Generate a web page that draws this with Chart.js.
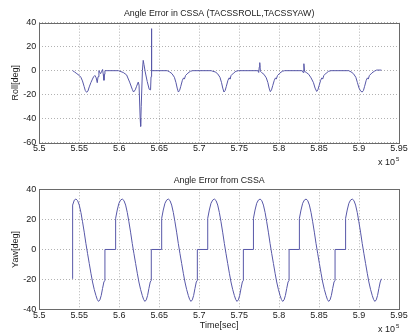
<!DOCTYPE html>
<html>
<head>
<meta charset="utf-8">
<script src="https://cdn.jsdelivr.net/npm/chart.js@4.4.0/dist/chart.umd.min.js"></script>
<style>
  html, body { margin: 0; padding: 0; background: #fff; }
  #wrap { position: relative; width: 413px; height: 335px; }
  canvas { position: absolute; left: 0; }
</style>
</head>
<body>
<div id="wrap">
  <canvas id="rollChart" width="413" height="167" style="top:0"></canvas>
  <canvas id="yawChart" width="413" height="168" style="top:167px"></canvas>
</div>
<script>
// time axis is in units of 1e5 sec (shown as "x 10^5")
const xTickValues = [5.5, 5.55, 5.6, 5.65, 5.7, 5.75, 5.8, 5.85, 5.9, 5.95];
const xTickLabels = ['5.5', '5.55', '5.6', '5.65', '5.7', '5.75', '5.8', '5.85', '5.9', '5.95'];
const rollTicks = [-60, -40, -20, 0, 20, 40];
const yawTicks = [-40, -20, 0, 20, 40];

// roll angle error
const rollTime = [
  5.5417, 5.5440, 5.5470, 5.5500, 5.5520, 5.5540, 5.5560, 5.5575, 5.5592, 5.5608, 5.5625, 5.5645, 5.5665, 5.5680,
  5.5695, 5.5712, 5.5725, 5.5735, 5.5746, 5.5757, 5.5767, 5.5780, 5.5792, 5.5800, 5.5809, 5.5815, 5.5821, 5.5990,
  5.6010, 5.6050, 5.6092, 5.6130, 5.6163, 5.6179, 5.6200, 5.6217, 5.6238, 5.6248, 5.6262, 5.6268,
  5.6275, 5.6290, 5.6300, 5.6310, 5.6325, 5.6350, 5.6375, 5.6392, 5.6398, 5.6402, 5.6408, 5.6600,
  5.6630, 5.6660, 5.6690, 5.6710, 5.6725, 5.6740, 5.6755, 5.6770, 5.6790, 5.6805, 5.6815, 5.6830, 5.6860, 5.6890, 5.6920, 5.7150,
  5.7170, 5.7200, 5.7230, 5.7260, 5.7280, 5.7295, 5.7310, 5.7325, 5.7340, 5.7360, 5.7375,
  5.7385, 5.7400, 5.7430, 5.7460, 5.7490, 5.7735, 5.7745, 5.7752, 5.7758, 5.7766,
  5.7780, 5.7810, 5.7840, 5.7860, 5.7875, 5.7890, 5.7905, 5.7920, 5.7940, 5.7955,
  5.7965, 5.7980, 5.8010, 5.8040, 5.8070, 5.8290, 5.8300, 5.8310, 5.8318,
  5.8340, 5.8370, 5.8400, 5.8430, 5.8450, 5.8470, 5.8485, 5.8500, 5.8520, 5.8535, 5.8545, 5.8560, 5.8590, 5.8620, 5.8650, 5.8870,
  5.8900, 5.8930, 5.8960, 5.8980, 5.9000, 5.9020, 5.9040, 5.9055, 5.9070, 5.9090, 5.9105, 5.9115, 5.9130, 5.9160, 5.9190, 5.9220, 5.9280
];
const rollDeg = [
  0, -1, -2.5, -4, -5.5, -8.5, -13, -16.5, -18, -17, -13.5, -10, -7, -5,
  -4, -6, -10, -5, 0, -1.5, -2.5, -0.5, 1, -3, -8, -3, 0, 0,
  -0.5, -1.5, -3.5, -9.5, -15.5, -17.8, -16, -13, -9.5, -12, -40, -46.4,
  -30, 0, 8.6, 5, -1, -9, -15.5, -16, -5, 35, 0, 0,
  -1, -2.5, -5.5, -10, -14.5, -17.8, -16.5, -13, -8, -6, -7, -4, -2, -0.5, 0, 0,
  -0.5, -1, -2.5, -5.5, -10, -14.5, -17.8, -16.5, -13, -8, -6,
  -7, -4, -2, -0.5, 0, 0, -1.5, 3, 6.7, -0.5,
  -1.5, -3, -6, -10, -14.5, -17.5, -16, -12.5, -8, -6,
  -7, -4, -2, -0.5, 0, 0, -1.5, 5.8, -0.5,
  -1.5, -3, -6, -10, -14.5, -17.3, -16, -12.5, -8, -6, -7, -4, -2, -0.5, 0, 0,
  -1, -2.5, -5.5, -10, -14.5, -17, -17.8, -16.5, -13, -8, -6, -7, -4, -2, -0.5, 0.5, 0.5
];

// yaw angle error
const yawTime = [
  5.5417, 5.5417, 5.5438, 5.5458,
  5.5479, 5.5500, 5.5521, 5.5541, 5.5562, 5.5583, 5.5604, 5.5625, 5.5646, 5.5666,
  5.5687, 5.5708, 5.5725, 5.5741, 5.5758, 5.5775, 5.5791, 5.5808, 5.5821, 5.5821,
  5.5955, 5.5955, 5.5975, 5.5996, 5.6017, 5.6038,
  5.6059, 5.6080, 5.6101, 5.6121, 5.6142, 5.6163, 5.6184, 5.6205, 5.6226, 5.6246,
  5.6267, 5.6288, 5.6305, 5.6321, 5.6338, 5.6355, 5.6371, 5.6388, 5.6401, 5.6401,
  5.6531, 5.6531, 5.6551, 5.6572, 5.6593, 5.6614,
  5.6635, 5.6656, 5.6677, 5.6697, 5.6718, 5.6739, 5.6760, 5.6781, 5.6802, 5.6822,
  5.6843, 5.6864, 5.6881, 5.6897, 5.6914, 5.6931, 5.6947, 5.6964, 5.6977, 5.6977,
  5.7107, 5.7107, 5.7127, 5.7148, 5.7169, 5.7190,
  5.7211, 5.7232, 5.7253, 5.7273, 5.7294, 5.7315, 5.7336, 5.7357, 5.7378, 5.7398,
  5.7419, 5.7440, 5.7457, 5.7473, 5.7490, 5.7507, 5.7523, 5.7540, 5.7553, 5.7553,
  5.7679, 5.7679, 5.7699, 5.7720, 5.7741, 5.7762,
  5.7783, 5.7804, 5.7825, 5.7845, 5.7866, 5.7887, 5.7908, 5.7929, 5.7950, 5.7970,
  5.7991, 5.8012, 5.8029, 5.8045, 5.8062, 5.8079, 5.8095, 5.8112, 5.8125, 5.8125,
  5.8254, 5.8254, 5.8274, 5.8295, 5.8316, 5.8337,
  5.8358, 5.8379, 5.8400, 5.8420, 5.8441, 5.8462, 5.8483, 5.8504, 5.8525, 5.8545,
  5.8566, 5.8587, 5.8604, 5.8620, 5.8637, 5.8654, 5.8670, 5.8687, 5.8700, 5.8700,
  5.8832, 5.8832, 5.8852, 5.8873, 5.8894, 5.8915,
  5.8936, 5.8957, 5.8978, 5.8998, 5.9019, 5.9040, 5.9061, 5.9082, 5.9103, 5.9123,
  5.9144, 5.9165, 5.9182, 5.9198, 5.9215, 5.9232, 5.9248, 5.9265, 5.9280
];
const yawDeg = [
  -19.5, 29.5, 32.8, 33.5,
  32.5, 29.5, 24.5, 18.4, 11.5, 4.0, -2.8, -9.3, -15.8, -21.6,
  -26.5, -30.5, -33.2, -34.5, -33.5, -30.5, -26.0, -21.6, -20.5, 0,
  0, 20.7, 26.2, 30.7, 32.8, 33.5,
  32.5, 29.5, 24.5, 18.4, 11.5, 4.0, -2.8, -9.3, -15.8, -21.6,
  -26.5, -30.5, -33.2, -34.5, -33.5, -30.5, -26.0, -21.6, -20.5, 0,
  0, 20.7, 26.2, 30.7, 32.8, 33.5,
  32.5, 29.5, 24.5, 18.4, 11.5, 4.0, -2.8, -9.3, -15.8, -21.6,
  -26.5, -30.5, -33.2, -34.5, -33.5, -30.5, -26.0, -21.6, -20.5, 0,
  0, 20.7, 26.2, 30.7, 32.8, 33.5,
  32.5, 29.5, 24.5, 18.4, 11.5, 4.0, -2.8, -9.3, -15.8, -21.6,
  -26.5, -30.5, -33.2, -34.5, -33.5, -30.5, -26.0, -21.6, -20.5, 0,
  0, 20.7, 26.2, 30.7, 32.8, 33.5,
  32.5, 29.5, 24.5, 18.4, 11.5, 4.0, -2.8, -9.3, -15.8, -21.6,
  -26.5, -30.5, -33.2, -34.5, -33.5, -30.5, -26.0, -21.6, -20.5, 0,
  0, 20.7, 26.2, 30.7, 32.8, 33.5,
  32.5, 29.5, 24.5, 18.4, 11.5, 4.0, -2.8, -9.3, -15.8, -21.6,
  -26.5, -30.5, -33.2, -34.5, -33.5, -30.5, -26.0, -21.6, -20.5, 0,
  0, 20.7, 26.2, 30.7, 32.8, 33.5,
  32.5, 29.5, 24.5, 18.4, 11.5, 4.0, -2.8, -9.3, -15.8, -21.6,
  -26.5, -30.5, -33.2, -34.5, -33.5, -30.5, -26.0, -21.6, -19.5
];

const FONT = { family: "'Liberation Sans', Arial, sans-serif", size: 9 };
const TEXT = '#1a1a1a';
const LINE = 'rgb(88,88,168)';

// matlab style box round the axes, plus the "x 10^5" multiplier
const axesBox = {
  id: 'axesBox',
  afterDraw(chart) {
    const { ctx, chartArea: a } = chart;
    ctx.save();
    ctx.strokeStyle = '#6a6a6a';
    ctx.lineWidth = 1;
    ctx.strokeRect(Math.round(a.left) + 0.5, Math.round(a.top) + 0.5,
      Math.round(a.right - a.left), Math.round(a.bottom - a.top));
    ctx.fillStyle = TEXT;
    ctx.textBaseline = 'middle';
    ctx.textAlign = 'right';
    ctx.font = "9px 'Liberation Sans', Arial, sans-serif";
    ctx.fillText('x 10', 395, 163);
    ctx.textAlign = 'left';
    ctx.font = "6px 'Liberation Sans', Arial, sans-serif";
    ctx.fillText('5', 396, 159);
    ctx.restore();
  }
};

function makeChart(id, times, values, opts) {
  const points = times.map((t, i) => ({ x: t, y: values[i] }));
  return new Chart(document.getElementById(id), {
    type: 'line',
    data: {
      datasets: [{
        data: points,
        borderColor: LINE,
        borderWidth: 1,
        pointRadius: 0,
        tension: 0,
        fill: false
      }]
    },
    options: {
      responsive: false,
      animation: false,
      layout: { padding: { left: 0, right: 14, top: 0, bottom: 0 } },
      plugins: {
        legend: { display: false },
        tooltip: { enabled: false },
        title: {
          display: true,
          text: opts.title,
          color: TEXT,
          font: { ...FONT, size: 8.8, weight: 'normal', lineHeight: 1.2 },
          fullSize: false,
          padding: opts.titlePad
        }
      },
      scales: {
        x: {
          type: 'linear',
          min: 5.5,
          max: 5.95,
          afterBuildTicks: s => { s.ticks = xTickValues.map(v => ({ value: v })); },
          afterFit: s => { s.height = opts.xHeight; },
          grid: { color: 'rgba(0,0,0,0.3)', lineWidth: 1, drawTicks: false },
          border: { display: false, dash: [1, 2] },
          ticks: {
            color: TEXT, font: FONT, padding: 0, autoSkip: false, maxRotation: 0,
            callback: (v, i) => xTickLabels[i]
          },
          title: {
            display: !!opts.xTitle,
            text: opts.xTitle || '',
            color: TEXT,
            font: FONT,
            padding: { top: 0, bottom: 4.2 }
          }
        },
        y: {
          min: opts.yTicks[0],
          max: opts.yTicks[opts.yTicks.length - 1],
          afterBuildTicks: s => { s.ticks = opts.yTicks.map(v => ({ value: v })); },
          afterFit: s => { s.width = 39.3; },
          grid: { color: 'rgba(0,0,0,0.3)', lineWidth: 1, drawTicks: false },
          border: { display: false, dash: [1, 2] },
          ticks: { color: TEXT, font: FONT, padding: 3 },
          title: {
            display: true,
            text: opts.yTitle,
            color: TEXT,
            font: FONT,
            padding: { top: 10, bottom: 0 }
          }
        }
      }
    },
    plugins: [axesBox]
  });
}

makeChart('rollChart', rollTime, rollDeg, {
  title: 'Angle Error in CSSA (TACSSROLL,TACSSYAW)',
  titlePad: { top: 8.0, bottom: 4.1 },
  yTitle: 'Roll[deg]',
  yTicks: rollTicks,
  xHeight: 24.3
});

makeChart('yawChart', yawTime, yawDeg, {
  title: 'Angle Error from CSSA',
  titlePad: { top: 8.4, bottom: 3.3 },
  yTitle: 'Yaw[deg]',
  yTicks: yawTicks,
  xHeight: 25.3,
  xTitle: 'Time[sec]'
});
</script>
</body>
</html>
